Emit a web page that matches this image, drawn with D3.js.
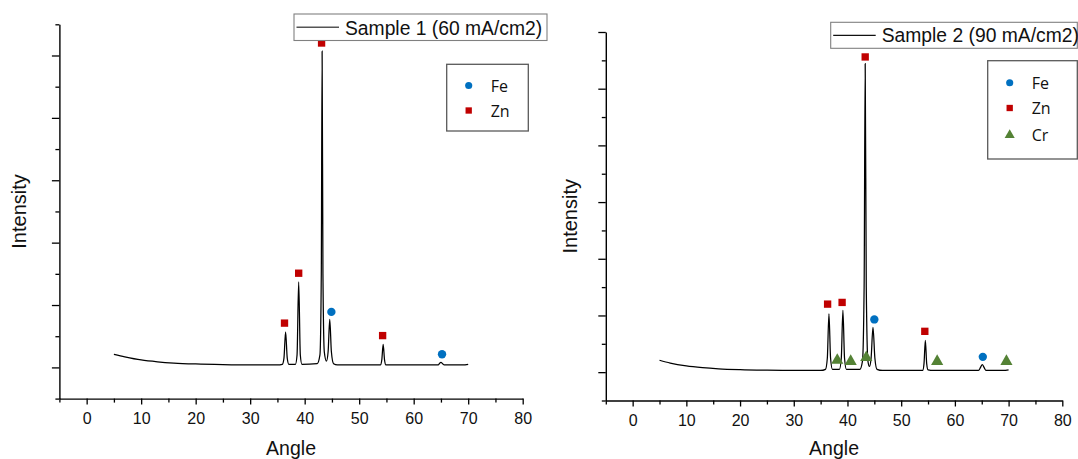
<!DOCTYPE html>
<html><head><meta charset="utf-8">
<script src="https://cdn.jsdelivr.net/npm/d3@7"></script>
<style>
html,body{margin:0;padding:0;background:#fff;}
svg{display:block;}
</style></head>
<body>
<script>
// ---------- DATA ----------
const xMajorTicks = [0, 10, 20, 30, 40, 50, 60, 70, 80];
const xMinorTicks = [-5, 5, 15, 25, 35, 45, 55, 65, 75];
const xLabel = "Angle";
const yLabel = "Intensity";

const sample1Name = "Sample 1 (60 mA/cm2)";
const sample1Angle = [5, 7, 10, 13, 16, 20, 25, 30, 35, 35.9, 36.2, 36.5, 36.8, 37.1, 38.3, 38.6, 38.9, 39.2, 39.5, 42.3, 42.8, 43.05, 43.2, 43.35, 43.6, 44.0, 44.3, 44.6, 44.9, 45.3, 46, 53.9, 54.15, 54.4, 54.65, 54.9, 64.5, 64.8, 65.0, 65.3, 65.6, 69, 70];
const sample1Int   = [0.21, 0.17, 0.12, 0.09, 0.07, 0.055, 0.045, 0.04, 0.04, 0.05, 0.15, 0.57, 0.15, 0.05, 0.05, 0.2, 1.37, 0.2, 0.05, 0.06, 0.2, 1.5, 5.07, 1.5, 0.25, 0.1, 0.25, 0.77, 0.25, 0.06, 0.04, 0.04, 0.12, 0.37, 0.12, 0.04, 0.04, 0.07, 0.08, 0.06, 0.04, 0.04, 0.05];
const s1FeAngle = [44.9, 65.2];
const s1FeInt   = [0.89, 0.21];
const s1ZnAngle = [36.3, 38.9, 43.1, 54.3];
const s1ZnInt   = [0.71, 1.51, 5.2, 0.51];

const sample2Name = "Sample 2 (90 mA/cm2)";
const sample2Angle = [5, 7, 10, 13, 16, 20, 25, 30, 35, 35.9, 36.25, 36.55, 36.85, 37.2, 38.5, 38.85, 39.15, 39.45, 39.8, 42.3, 42.8, 43.1, 43.3, 43.5, 43.8, 44.1, 44.4, 44.75, 45.1, 45.5, 46.5, 54.0, 54.25, 54.5, 54.75, 55.0, 56, 64.4, 64.8, 65.1, 65.4, 65.8, 69, 70];
const sample2Int   = [0.21, 0.16, 0.11, 0.08, 0.06, 0.045, 0.035, 0.03, 0.03, 0.05, 0.25, 1.03, 0.25, 0.05, 0.05, 0.25, 1.09, 0.25, 0.05, 0.05, 0.2, 1.5, 5.44, 1.5, 0.2, 0.1, 0.25, 0.79, 0.25, 0.05, 0.03, 0.03, 0.15, 0.56, 0.15, 0.04, 0.03, 0.03, 0.09, 0.135, 0.09, 0.03, 0.03, 0.04];
const s2FeAngle = [45.0, 65.2];
const s2FeInt   = [0.93, 0.27];
const s2ZnAngle = [36.3, 39.0, 43.3, 54.4];
const s2ZnInt   = [1.2, 1.23, 5.56, 0.72];
const s2CrAngle = [38.1, 40.6, 43.5, 56.7, 69.6];
const s2CrInt   = [0.21, 0.19, 0.26, 0.19, 0.19];

const phaseColors = {Fe: "#0070C0", Zn: "#C00000", Cr: "#548235"};

// ---------- DRAW ----------
const W = 1078, H = 459;
const svg = d3.select("body").append("svg").attr("width", W).attr("height", H);
const axisFont = "'Liberation Sans', Arial, sans-serif";
const legFont = "'Open Sans', Lato, sans-serif";

function markerPath(kind, size) {
  if (kind === "Fe") return d3.symbol().type(d3.symbolCircle).size(size)();
  if (kind === "Zn") return d3.symbol().type(d3.symbolSquare).size(size)();
  return d3.symbol().type(d3.symbolTriangle).size(size)();
}

function panel(cfg) {
  const x = d3.scaleLinear().domain([-5, 80]).range(cfg.xr);
  const y = d3.scaleLinear().domain(cfg.yd).range(cfg.yr);
  const g = svg.append("g");

  // y axis
  const yMaj = d3.range(0, cfg.yd[1] + 0.001, 1);
  const yMin = d3.range(cfg.yd[0], cfg.yd[1] + 0.001, 1).filter(v => Math.abs(v - Math.round(v)) > 0.1);
  const ya = g.append("g").attr("transform", `translate(${cfg.xr[0]},0)`);
  ya.call(d3.axisLeft(y).tickValues(yMaj).tickSize(7.5).tickFormat("").tickSizeOuter(0));
  const ym = g.append("g").attr("transform", `translate(${cfg.xr[0]},0)`);
  ym.call(d3.axisLeft(y).tickValues(yMin).tickSize(4).tickFormat("").tickSizeOuter(0));
  ym.select(".domain").remove();

  // x axis
  const xa = g.append("g").attr("transform", `translate(0,${cfg.yr[0]})`);
  xa.call(d3.axisBottom(x).tickValues(xMajorTicks).tickSize(6).tickPadding(8).tickSizeOuter(0).tickFormat(d3.format("d")));
  const xm = g.append("g").attr("transform", `translate(0,${cfg.yr[0]})`);
  xm.call(d3.axisBottom(x).tickValues(xMinorTicks).tickSize(4).tickFormat("").tickSizeOuter(0));
  xm.select(".domain").remove();

  g.selectAll(".domain").attr("stroke", "#000").attr("stroke-width", 1.4);
  g.selectAll(".tick line").attr("stroke", "#000").attr("stroke-width", 1.3);
  g.selectAll(".tick text").attr("font-family", axisFont).attr("font-size", 16).attr("fill", "#111");

  // axis titles
  g.append("text").attr("x", (cfg.xr[0] + cfg.xr[1]) / 2).attr("y", 455)
    .attr("text-anchor", "middle").attr("font-family", axisFont).attr("font-size", 19.5).attr("fill", "#111").text(xLabel);
  const ycen = (cfg.yr[0] + cfg.yr[1]) / 2;
  g.append("text").attr("transform", `translate(${cfg.ylx},${ycen}) rotate(-90)`)
    .attr("text-anchor", "middle").attr("font-family", axisFont).attr("font-size", 20).attr("fill", "#111").text(yLabel);

  // line
  const pts = cfg.angle.map((a, i) => [a, cfg.inten[i]]);
  g.append("path").datum(pts)
    .attr("d", d3.line().x(d => x(d[0])).y(d => y(d[1])).curve(d3.curveMonotoneX))
    .attr("fill", "none").attr("stroke", "#000").attr("stroke-width", 1.25);

  // markers
  cfg.markers.forEach(m => {
    g.selectAll(null).data(m.a.map((a, i) => [a, m.v[i]])).enter().append("path")
      .attr("d", markerPath(m.kind, m.size))
      .attr("transform", d => `translate(${x(d[0])},${y(d[1])})`)
      .attr("fill", phaseColors[m.kind]);
  });

  // sample legend box
  const b = cfg.sBox;
  g.append("rect").attr("x", b[0]).attr("y", b[1]).attr("width", b[2] - b[0]).attr("height", b[3] - b[1])
    .attr("fill", "#fff").attr("stroke", "#808080").attr("stroke-width", 1.1);
  g.append("line").attr("x1", b[0] + 2.5).attr("x2", b[0] + 45).attr("y1", (b[1] + b[3]) / 2).attr("y2", (b[1] + b[3]) / 2)
    .attr("stroke", cfg.sLineColor).attr("stroke-width", 1.3);
  g.append("text").attr("x", b[0] + 51).attr("y", b[3] - 6).attr("font-family", axisFont).attr("font-size", 19.3)
    .attr("fill", "#111").text(cfg.name);

  // phase legend box
  const p = cfg.pBox;
  g.append("rect").attr("x", p[0]).attr("y", p[1]).attr("width", p[2] - p[0]).attr("height", p[3] - p[1])
    .attr("fill", "#fff").attr("stroke", "#595959").attr("stroke-width", 1.3);
  cfg.phases.forEach((ph, i) => {
    const cy = cfg.pRows[i];
    g.append("path").attr("d", markerPath(ph, ph === "Cr" ? 44 : 40))
      .attr("transform", `translate(${p[0] + 22},${cy})`).attr("fill", phaseColors[ph]);
    g.append("text").attr("x", p[0] + 44).attr("y", cy + 6).attr("font-family", legFont).attr("font-size", 16)
      .attr("fill", "#111").text(ph);
  });
}

panel({
  xr: [59.4, 522.7], yd: [-0.5, 5.5], yr: [398.6, 24.3], ylx: 26,
  angle: sample1Angle, inten: sample1Int, name: sample1Name, sLineColor: "#555",
  markers: [
    {kind: "Fe", a: s1FeAngle, v: s1FeInt, size: 55},
    {kind: "Zn", a: s1ZnAngle, v: s1ZnInt, size: 54}
  ],
  sBox: [294, 14, 547, 40.5],
  pBox: [446.7, 64.3, 528.3, 131],
  phases: ["Fe", "Zn"], pRows: [85.5, 110.5]
});

panel({
  xr: [605.8, 1062.3], yd: [-0.5, 6], yr: [400.5, 32], ylx: 577,
  angle: sample2Angle, inten: sample2Int, name: sample2Name, sLineColor: "#111",
  markers: [
    {kind: "Fe", a: s2FeAngle, v: s2FeInt, size: 55},
    {kind: "Zn", a: s2ZnAngle, v: s2ZnInt, size: 54},
    {kind: "Cr", a: s2CrAngle, v: s2CrInt, size: 64}
  ],
  sBox: [830.7, 22.3, 1077.3, 48.3],
  pBox: [987.7, 60.7, 1077.3, 159],
  phases: ["Fe", "Zn", "Cr"], pRows: [82.7, 108, 135]
});
</script>
</body></html>
